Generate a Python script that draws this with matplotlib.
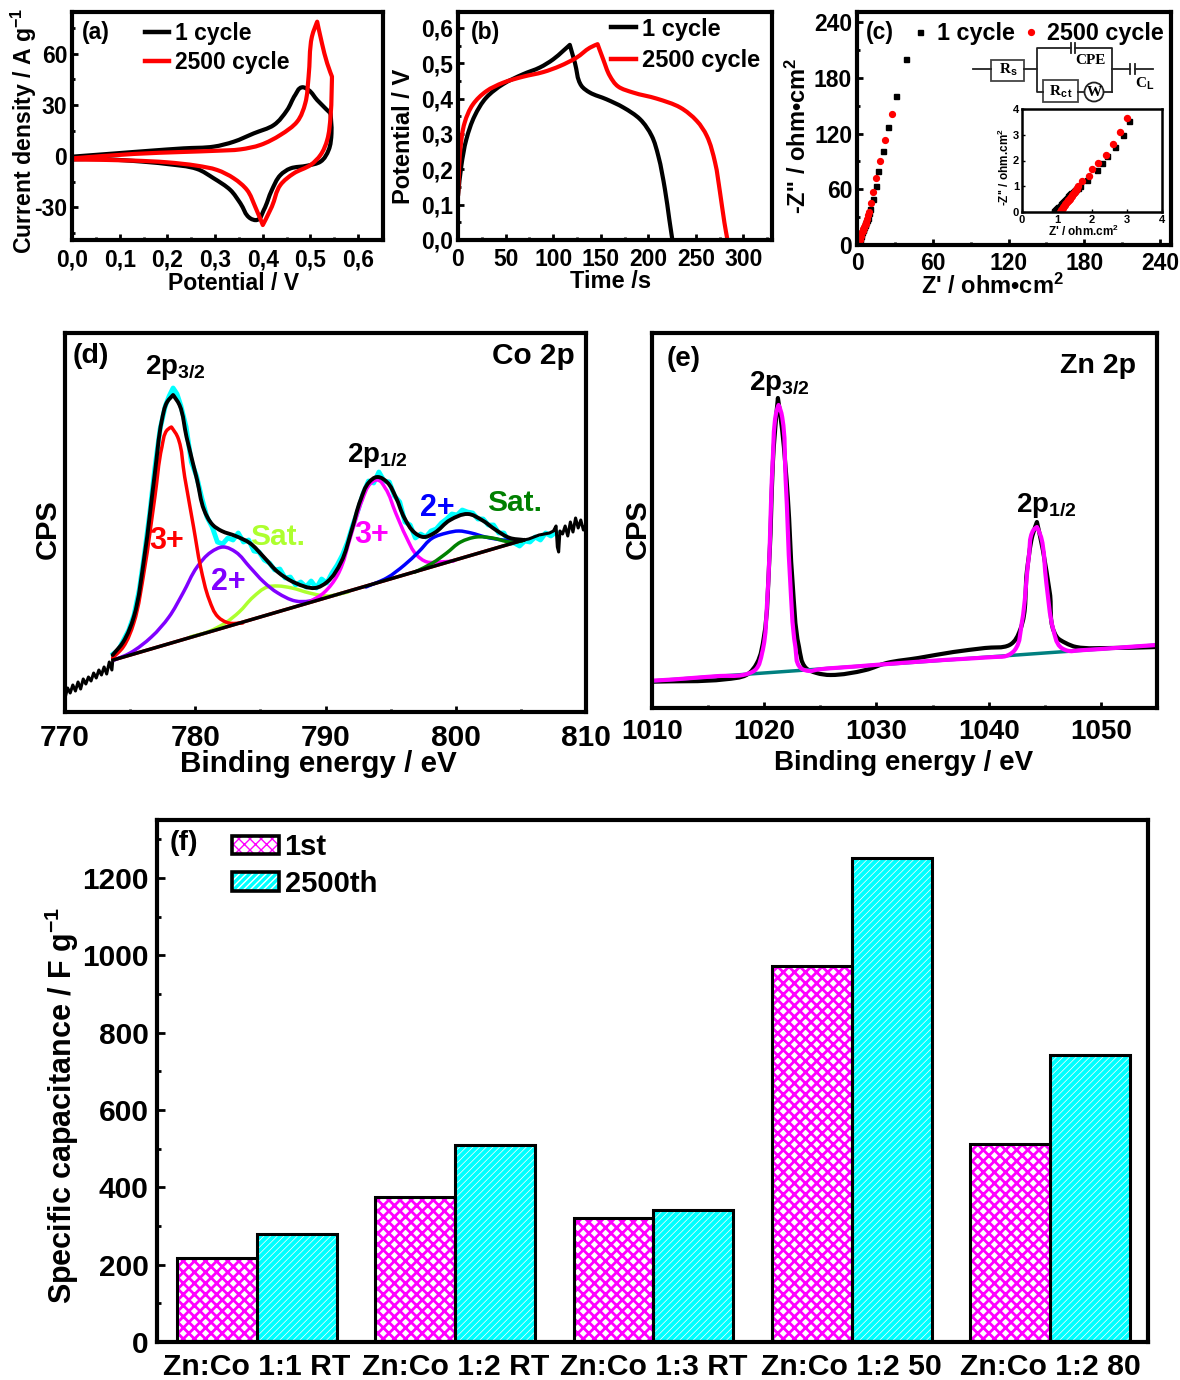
import matplotlib
matplotlib.use("Agg")
import matplotlib.pyplot as plt
import numpy as np
from matplotlib.legend_handler import HandlerTuple
from matplotlib.lines import Line2D
from matplotlib.patches import Circle, Patch, PathPatch, Rectangle
from matplotlib.path import Path
from matplotlib.ticker import MultipleLocator

plt.rcParams["font.family"] = ["Liberation Sans", "DejaVu Sans"]
plt.rcParams["font.weight"] = "bold"
plt.rcParams["axes.labelweight"] = "bold"
plt.rcParams["axes.unicode_minus"] = False
plt.rcParams["mathtext.fontset"] = "custom"
plt.rcParams["mathtext.bf"] = "Liberation Sans:bold"
plt.rcParams["mathtext.rm"] = "Liberation Sans:bold"
plt.rcParams["mathtext.default"] = "bf"

# (a) CV loops
cv1_x = [0, .094, .164, .234, .297, .339, .381, .423, .451, .468, .482, .496, .514, .542, .544, .538, .521, .493, .458, .437, .419, .402, .388, .374, .353, .332, .297, .262, .199, .129, .059, 0]
cv1_y = [-.4, 1.6, 3.1, 4.5, 5.5, 8.4, 13.3, 18.2, 27, 35.9, 40.4, 38.8, 32.9, 25.1, 13.3, 3.5, -3.3, -5.7, -7.3, -11.2, -20, -31.8, -37.6, -36.7, -27.8, -20, -13.1, -7.6, -4.7, -2.9, -1.8, -2]
cv2_x = [0, .129, .234, .304, .353, .395, .437, .472, .489, .496, .503, .514, .524, .535, .545, .542, .535, .521, .5, .465, .437, .419, .4, .384, .367, .339, .304, .262, .199, .129, 0]
cv2_y = [-1.4, 1.2, 2.4, 3.1, 3.9, 6.5, 12.4, 20.2, 31, 46.7, 70.2, 79, 66.3, 54.5, 46.7, 23.1, 9.4, .6, -5.3, -10.2, -17, -29.8, -40.6, -29.8, -20, -13.1, -8.2, -5.7, -3.7, -2.7, -2]

# (b) charge / discharge
gcd1_t = [0, 3.5, 8.8, 17.5, 29.8, 47.4, 68.4, 86, 100, 110.5, 117.5, 122.8, 129.8, 138.6, 156.1, 173.7, 191.2, 203.5, 210.5, 217.5, 222.1, 225.3]
gcd1_v = [.125, .21, .285, .351, .403, .441, .469, .488, .511, .535, .552, .502, .436, .417, .398, .375, .342, .295, .238, .143, .058, 0]
gcd2_t = [0, 2.5, 7, 15.8, 29.8, 47.4, 68.4, 89.5, 107, 124.6, 138.6, 146.7, 152.6, 159.6, 168.4, 184.2, 208.8, 233.4, 250.9, 261.4, 270.2, 275.4, 280, 283.2]
gcd2_v = [.125, .258, .332, .384, .421, .445, .462, .475, .492, .516, .544, .554, .511, .464, .434, .417, .4, .375, .337, .295, .219, .134, .049, 0]

# (c) Nyquist, main plot
eis1_x = [.9, 1.2, 1.6, 2, 2.5, 3, 3.4, 4, 4.5, 5, 5.5, 6, 6.5, 7.2, 8, 8.7, 9.6, 10.6, 12.7, 14.8, 16.6, 20.6, 24.5, 31, 39]
eis1_y = [0, 1, 3, 5, 7.5, 10, 12, 14, 16, 17.5, 19, 21, 23, 25, 27, 29, 34, 39, 50, 63, 80, 101, 127, 160, 200]
eis2_x = [1.1, 1.4, 1.8, 2.2, 2.6, 3, 3.5, 4, 4.4, 4.9, 5.3, 5.8, 6.3, 6.9, 7.4, 7.9, 8.8, 9.8, 11.3, 12.9, 14.8, 18.5, 22.2, 27.4]
eis2_y = [0, 1, 3, 5, 7.5, 10, 12.5, 14, 15.5, 17, 18, 19.5, 21, 23, 25, 27.6, 32, 36, 45, 57, 72, 90, 112.5, 141]
# (c) Nyquist, inset
ins1_x = [.9, .925, .95, .975, 1, 1.025, 1.05, 1.075, 1.1, 1.125, 1.15, 1.175, 1.2, 1.225, 1.25, 1.275, 1.3, 1.325, 1.35, 1.38, 1.41, 1.445, 1.48, 1.515, 1.55, 1.6, 1.65, 1.86, 2.14, 2.28, 2.43, 2.66, 2.89, 3.06]
ins1_y = [0, .035, .07, .105, .14, .175, .21, .245, .28, .315, .35, .385, .42, .455, .49, .535, .58, .62, .66, .7, .74, .78, .82, .86, .9, .95, 1, 1.25, 1.64, 1.92, 2.18, 2.52, 2.99, 3.55]
ins2_x = [1.08, 1.1, 1.12, 1.14, 1.16, 1.18, 1.2, 1.22, 1.24, 1.26, 1.28, 1.3, 1.32, 1.34, 1.36, 1.38, 1.4, 1.42, 1.44, 1.46, 1.48, 1.5, 1.52, 1.54, 1.56, 1.58, 1.6, 1.72, 1.9, 2.01, 2.16, 2.39, 2.6, 2.79, 3]
ins2_y = [0, .035, .07, .11, .15, .185, .22, .26, .3, .335, .37, .41, .45, .485, .52, .56, .6, .635, .67, .705, .74, .78, .82, .86, .9, .95, 1, 1.19, 1.41, 1.68, 1.92, 2.23, 2.65, 3.11, 3.64]

# (d) Co 2p
co_raw_e = [773.7, 774.1, 774.5, 774.9, 775.3, 775.7, 776.1, 776.5, 776.9, 777.3, 777.7, 778.0, 778.3, 778.6, 778.9, 779.3, 779.7, 780.1, 780.5, 780.9, 781.3, 781.7, 782.1, 782.5, 782.9, 783.3, 783.7, 784.1, 784.5, 784.9, 785.3, 785.7, 786.1, 786.5, 786.9, 787.3, 787.7, 788.1, 788.5, 788.9, 789.3, 789.7, 790.1, 790.5, 790.9, 791.3, 791.7, 792.1, 792.5, 792.9, 793.3, 793.7, 794.1, 794.5, 794.9, 795.3, 795.7, 796.1, 796.5, 796.9, 797.3, 797.7, 798.1, 798.5, 798.9, 799.3, 799.7, 800.1, 800.5, 800.9, 801.3, 801.7, 802.1, 802.5, 802.9, 803.3, 803.7, 804.1, 804.5, 804.9, 805.3, 805.7, 806.1, 806.5, 806.9, 807.3, 807.7]
co_raw_c = [58, 62, 72, 82, 97, 122, 158, 198, 244, 283, 306, 316, 324, 318, 306, 285, 250, 236, 214, 195, 185, 170, 168, 174, 172, 179, 170, 172, 161, 160, 152, 149, 142, 143, 134, 135, 127, 130, 125, 131, 124, 133, 129, 139, 147, 157, 170, 187, 202, 219, 231, 229, 240, 231, 230, 216, 210, 190, 187, 174, 178, 175, 181, 183, 189, 193, 198, 197, 202, 200, 199, 193, 193, 187, 187, 179, 179, 169, 169, 166, 171, 170, 175, 172, 179, 176, 180]
co_left_e = [770.0, 770.2, 770.4, 770.6, 770.8, 771.0, 771.2, 771.4, 771.6, 771.8, 772.0, 772.2, 772.4, 772.6, 772.8, 773.0, 773.2, 773.4, 773.6, 773.7]
co_left_c = [14, 24, 19, 27, 21, 30, 23, 33, 28, 35, 31, 39, 34, 42, 37, 45, 38, 50, 42, 56]
co_right_e = [805.2, 805.6, 806, 806.4, 806.8, 807.2, 807.5, 807.7, 807.8, 807.9, 808, 808.2, 808.4, 808.6, 808.8, 809, 809.2, 809.4, 809.6, 809.8, 810]
co_right_c = [172, 173, 175, 177, 178, 179, 181, 186, 165, 160, 181, 178, 186, 176, 190, 180, 194, 184, 192, 182, 188]
co_fit_e = [773.66, 774.47, 775.28, 776.09, 776.9, 777.44, 777.84, 778.3, 778.79, 779.33, 780.14, 780.68, 781.35, 782.03, 783.1, 784.18, 785.26, 786.34, 787.69, 789.18, 790.12, 791.2, 792.01, 792.69, 793.36, 793.98, 794.71, 795.39, 796.06, 796.87, 797.54, 798.35, 799.57, 800.92, 802, 803.08, 804.16, 805.24]
co_fit_c = [57, 70, 95, 155, 239, 292, 310, 317, 307, 275, 232, 202, 187, 181, 176, 169, 155, 140, 129, 124, 130, 150, 182, 212, 230, 235, 230, 215, 194, 179, 175, 179, 192, 198, 192, 182, 174, 172]
co_base_e = [773.7, 805.2]
co_base_c = [52, 172]
co3a_e = [773.66, 774.47, 775.28, 776.09, 776.9, 777.44, 777.84, 778.17, 778.65, 779.19, 779.87, 780.41, 781.08, 781.76, 782.57, 783.64]
co3a_c = [54, 65, 89, 142, 215, 265, 282, 285, 275, 235, 185, 145, 112, 95, 89, 89]
co2a_e = [773.79, 775, 776.63, 777.98, 779.06, 780.14, 781.22, 782.16, 783.1, 784.18, 785.26, 786.34, 787.69, 788.77, 789.58]
co2a_c = [52, 59, 75, 95, 119, 145, 160, 165, 160, 145, 130, 119, 111, 111, 115]
sata_e = [779.6, 780.95, 782.3, 783.37, 784.45, 785.53, 786.34, 787.42, 788.77, 790.12, 791.74]
sata_c = [75, 80, 89, 100, 115, 125, 126, 124, 119, 116, 120]
co3b_e = [788.77, 789.85, 790.93, 792.01, 792.82, 793.5, 793.98, 794.58, 795.39, 796.2, 797, 797.8, 798.76, 799.84]
co3b_c = [110, 119, 137, 179, 212, 229, 232, 224, 199, 175, 157, 150, 150, 151]
co2b_e = [793.1, 794.7, 796.06, 797.14, 798.22, 799.3, 800.24, 801.19, 802.27, 803.62, 804.97]
co2b_c = [125, 134, 147, 160, 174, 179, 181, 179, 175, 172, 171]
satb_e = [796.87, 798.22, 799.3, 800.38, 801.59, 802.81, 804.16, 805.1]
satb_c = [140, 149, 159, 170, 175, 174, 170, 171]

# (e) Zn 2p
zn_raw_e = [1009.96, 1016.53, 1018.41, 1019.34, 1019.97, 1020.44, 1020.85, 1021.22, 1021.6, 1022.1, 1022.53, 1023.1, 1023.72, 1024.66, 1025.91, 1029.04, 1030.91, 1033.73, 1036.86, 1039.67, 1041.86, 1042.8, 1043.42, 1043.89, 1044.3, 1044.83, 1045.45, 1046.08, 1046.86, 1047.8, 1050.93, 1055]
zn_raw_c = [26.3, 28.7, 33, 44.7, 71, 145, 261, 310, 278, 211, 125, 61, 40, 35, 33, 38, 45, 50, 56, 60, 63, 78, 138, 172, 186, 158, 115, 71, 65, 61, 60, 61]
zn_fit_e = [1009.96, 1012, 1016, 1018.09, 1019.19, 1019.81, 1020.28, 1020.75, 1021.06, 1021.28, 1021.53, 1021.91, 1022.31, 1022.78, 1023.25, 1024.04, 1024.8, 1028, 1032.17, 1036, 1040.5, 1041.55, 1042.33, 1042.95, 1043.58, 1043.99, 1044.3, 1044.67, 1045.14, 1045.77, 1046.39, 1047.17, 1048, 1050, 1053, 1055]
zn_fit_c = [27.3, 28.6, 32, 33, 38, 55, 111, 245, 295, 303, 295, 228, 128, 61, 40, 37, 38.5, 41.4, 45, 48, 51, 52, 58, 85, 151, 178, 181, 171, 125, 78, 61, 57, 57.6, 59, 61.5, 63]
zn_base_e = [1009.96, 1055]
zn_base_c = [27, 63]

# (f) capacitance bars
samples = ["Zn:Co 1:1 RT", "Zn:Co 1:2 RT", "Zn:Co 1:3 RT", "Zn:Co 1:2 50", "Zn:Co 1:2 80"]
cap_1st = [217, 375, 321, 972, 512]
cap_2500 = [279, 509, 341, 1252, 742]

W, H = 1180, 1380
fig = plt.figure(figsize=(W / 100, H / 100), dpi=100)


def panel(l, t, r, b, fs, lw=3, ticklen=4, pad=6):
    ax = fig.add_axes([l / W, 1 - b / H, (r - l) / W, (b - t) / H])
    for s in ax.spines.values():
        s.set_linewidth(lw)
    ax.tick_params(which="major", direction="in", length=ticklen, width=2, labelsize=fs, pad=pad)
    ax.tick_params(which="minor", direction="in", length=ticklen / 2, width=2)
    return ax


def comma(vals):
    return [f"{v:.1f}".replace(".", ",") for v in vals]


def curve(ax, xs, ys, color, lw, corners=()):
    # spline connection through the read points, like Origin's line+spline; limits must be set first
    x0, x1 = ax.get_xlim()
    y0, y1 = ax.get_ylim()
    sx, sy = (x1 - x0), (y1 - y0)
    p = np.column_stack([np.asarray(xs, float) / sx, np.asarray(ys, float) / sy])
    seg = np.diff(p, axis=0)
    seglen = np.hypot(seg[:, 0], seg[:, 1])
    u = seg / seglen[:, None]
    tan = np.zeros_like(p)
    tan[0], tan[-1] = u[0], u[-1]
    for i in range(1, len(p) - 1):
        if i not in corners and np.dot(u[i - 1], u[i]) > -0.3:
            t = u[i - 1] + u[i]
            tan[i] = t / np.hypot(*t)
    verts = [p[0]]
    for i in range(len(seg)):
        verts.append(p[i] + tan[i] * seglen[i] / 3)
        verts.append(p[i + 1] - tan[i + 1] * seglen[i] / 3)
        verts.append(p[i + 1])
    verts = np.array(verts) * [sx, sy]
    codes = [Path.MOVETO] + [Path.CURVE4] * (len(verts) - 1)
    ax.add_patch(PathPatch(Path(verts, codes), fill=False, edgecolor=color, linewidth=lw,
                           capstyle="round", joinstyle="round", zorder=2))


def cycle_legend(ax, anchor, fs, spacing):
    handles = [Line2D([], [], color="black", lw=3.2), Line2D([], [], color="red", lw=3.2)]
    ax.legend(handles, ["1 cycle", "2500 cycle"], loc="upper left", bbox_to_anchor=anchor, frameon=False,
              fontsize=fs, borderpad=0, borderaxespad=0, handlelength=1.05, handletextpad=0.25, labelspacing=spacing)


# overlay in pixel coordinates for panel letters, annotations and the circuit
ov = fig.add_axes([0, 0, 1, 1], zorder=10)
ov.set_xlim(0, W)
ov.set_ylim(H, 0)
ov.axis("off")


def note(x, y, s, fs=18, color="black", **kw):
    ov.text(x, y, s, fontsize=fs, color=color, ha="center", va="center", **kw)


# --- (a)
ax = panel(72, 12, 383, 240, 16.5)
ax.tick_params(axis="y", which="major", pad=3.5)
ax.set_xlim(0, 0.652)
ax.set_ylim(-49.4, 84.7)
curve(ax, cv1_x, cv1_y, "black", 3, corners=[13])
curve(ax, cv2_x, cv2_y, "red", 3, corners=[14])
ax.set_xticks([0, .1, .2, .3, .4, .5, .6])
ax.set_xticklabels(comma([0, .1, .2, .3, .4, .5, .6]))
ax.xaxis.set_minor_locator(MultipleLocator(.05))
ax.set_yticks([-30, 0, 30, 60])
ax.yaxis.set_minor_locator(MultipleLocator(15))
ax.set_xlabel("Potential / V", fontsize=16.6, va="center")
ax.xaxis.set_label_coords((234 - 72) / 311, -(283 - 240) / 228)
ax.set_ylabel("Current density / A g$^{-1}$", fontsize=16.6, va="center")
ax.yaxis.set_label_coords(-(72 - 24) / 311, (240 - 131) / 228)
cycle_legend(ax, (.235, .955), 16.5, .25)
note(96, 32, "(a)", 16.5)

# --- (b)
ax = panel(458, 12, 772, 240, 16.5)
ax.tick_params(axis="y", which="major", pad=3.5)
ax.set_xlim(0, 330)
ax.set_ylim(0, 0.645)
curve(ax, gcd1_t, gcd1_v, "black", 3, corners=[10])
curve(ax, gcd2_t, gcd2_v, "red", 3, corners=[11])
ax.set_xticks([0, 50, 100, 150, 200, 250, 300])
ax.xaxis.set_minor_locator(MultipleLocator(25))
ax.set_yticks([0, .1, .2, .3, .4, .5, .6])
ax.set_yticklabels(comma([0, .1, .2, .3, .4, .5, .6]))
ax.yaxis.set_minor_locator(MultipleLocator(.05))
ax.set_xlabel("Time /s", fontsize=17, va="center")
ax.xaxis.set_label_coords((611 - 458) / 314, -(282 - 240) / 228)
ax.set_ylabel("Potential / V", fontsize=17, va="center")
ax.yaxis.set_label_coords(-(458 - 404) / 314, (240 - 136) / 228)
cycle_legend(ax, (.487, .975), 17, .37)
note(485, 32, "(b)", 16.5)

# --- (c)
ax = panel(857, 12, 1171, 245, 16.5, pad=5)
ax.tick_params(axis="y", which="major", pad=3.5)
ax.plot(eis1_x, eis1_y, "s", color="black", ms=3.6, label="1 cycle")
ax.plot(eis2_x, eis2_y, "o", color="red", ms=4.2, label="2500 cycle")
ax.set_xlim(0, 248.7)
ax.set_ylim(0, 250.8)
ax.set_xticks([0, 60, 120, 180, 240])
ax.set_yticks([0, 60, 120, 180, 240])
ax.xaxis.set_minor_locator(MultipleLocator(30))
ax.yaxis.set_minor_locator(MultipleLocator(30))
ax.set_xlabel("Z' / ohm•cm$^{2}$", fontsize=17, va="center")
ax.xaxis.set_label_coords((992 - 857) / 314, -(286 - 245) / 233)
ax.set_ylabel("-Z'' / ohm•cm$^{2}$", fontsize=17, va="center")
ax.yaxis.set_label_coords(-(857 - 798) / 314, (245 - 136) / 233)
ax.legend(loc="upper left", bbox_to_anchor=(.165, .955), frameon=False, fontsize=16.8, ncol=2, borderpad=0,
          borderaxespad=0, handlelength=1, handletextpad=0.2, columnspacing=.2)
note(880, 32, "(c)", 16.5)

ins = panel(1022, 109, 1162, 212, 8, lw=1.8, ticklen=2.5, pad=2)
ins.tick_params(which="major", width=1)
ins.plot(ins1_x, ins1_y, "s", color="black", ms=3.6)
ins.plot(ins2_x, ins2_y, "o", color="red", ms=4.3)
ins.set_xlim(0, 4)
ins.set_ylim(0, 4)
ins.set_xticks([0, 1, 2, 3, 4])
ins.set_yticks([0, 1, 2, 3, 4])
ins.set_xlabel("Z' / ohm.cm$^{2}$", fontsize=8.5, va="center")
ins.xaxis.set_label_coords((1084 - 1022) / 140, -(231 - 212) / 103)
ins.set_ylabel("-Z'' / ohm.cm$^{2}$", fontsize=8.5, va="center")
ins.yaxis.set_label_coords(-(1022 - 1004) / 140, (212 - 167) / 103)

# equivalent circuit
wires = [([973, 991], [69, 69]), ([1024, 1037, 1037, 1071], [69, 69, 48, 48]), ([1075, 1112, 1112], [48, 48, 92]),
         ([1037, 1037, 1043], [69, 92, 92]), ([1078, 1084], [92, 92]), ([1104, 1112], [92, 92]),
         ([1112, 1130], [69, 69]), ([1135, 1153], [69, 69])]
for xs, ys in wires:
    ov.plot(xs, ys, color="#222222", lw=1.3)
for x in [1071, 1075, 1130, 1135]:
    y = 48 if x < 1100 else 69
    ov.plot([x, x], [y - 5, y + 5], color="#222222", lw=1.3)
ov.add_patch(Rectangle((991, 60), 33, 21, fc="white", ec="#444444", lw=1.3))
ov.add_patch(Rectangle((1043, 80), 35, 22, fc="white", ec="#444444", lw=1.3))
ov.add_patch(Circle((1094, 92), 9.5, fc="white", ec="#222222", lw=1.3))
serif = ["Liberation Serif", "DejaVu Serif"]
ov.text(1090, 60, "CPE", fontsize=11, ha="center", va="center", family=serif)
ov.text(1008, 70, "R$_{\\mathrm{s}}$", fontsize=11, ha="center", va="center", family=serif)
ov.text(1061, 92, "R$_{\\mathrm{c\\,t}}$", fontsize=11, ha="center", va="center", family=serif)
ov.text(1094, 92, "W", fontsize=11, ha="center", va="center", family=serif)
ov.text(1145, 84, "C$_{\\mathrm{L}}$", fontsize=11, ha="center", va="center", family=serif)

# --- (d)
ax = panel(65, 333, 586, 712, 21.5, pad=9)
ax.set_xlim(770, 810)
ax.set_ylim(0, 379)
ax.plot(co_raw_e, co_raw_c, color="#00FFFF", lw=3.5, zorder=1.5)
ax.plot(co_left_e, co_left_c, color="black", lw=2.2)
ax.plot(co_right_e, co_right_c, color="black", lw=2.2)
ax.plot(co_base_e, co_base_c, color="red", lw=2.5, zorder=1.6)
curve(ax, sata_e, sata_c, "#ADFF2F", 2.5)
curve(ax, co2a_e, co2a_c, "#8000FF", 2.5)
curve(ax, co3a_e, co3a_c, "red", 2.5)
curve(ax, co3b_e, co3b_c, "#FF00FF", 2.5)
curve(ax, co2b_e, co2b_c, "#0000FF", 2.5)
curve(ax, satb_e, satb_c, "#008000", 2.5)
ax.plot(co_base_e, co_base_c, color="black", lw=2.5, zorder=2)
curve(ax, co_fit_e, co_fit_c, "black", 2.8)
ax.set_xticks([770, 780, 790, 800, 810])
ax.xaxis.set_minor_locator(MultipleLocator(5))
ax.set_yticks([])
ax.set_xlabel("Binding energy / eV", fontsize=21.3, va="center")
ax.xaxis.set_label_coords((318 - 65) / 521, -(764 - 712) / 379)
ax.set_ylabel("CPS", fontsize=21, va="center")
ax.yaxis.set_label_coords(-(65 - 48) / 521, (712 - 529) / 379)
note(91, 356, "(d)", 20.5)
note(533, 356, "Co 2p", 21.4)
note(175, 367, "2p$_{3/2}$", 20)
note(377, 455, "2p$_{1/2}$", 20)
note(167, 541, "3+", 22, "red")
note(228, 582, "2+", 22, "#8000FF")
note(278, 537, "Sat.", 21.5, "#ADFF2F")
note(372, 535, "3+", 22, "#FF00FF")
note(437, 508, "2+", 22, "#0000FF")
note(515, 503, "Sat.", 21.5, "#008000")

# --- (e)
ax = panel(652, 333, 1157, 708, 20, pad=8)
ax.set_xlim(1010, 1055)
ax.set_ylim(0, 375)
curve(ax, zn_raw_e, zn_raw_c, "black", 3)
ax.plot(zn_base_e, zn_base_c, color="#008080", lw=2.5, zorder=2)
curve(ax, zn_fit_e, zn_fit_c, "#FF00FF", 3)
ax.set_xticks([1010, 1020, 1030, 1040, 1050])
ax.xaxis.set_minor_locator(MultipleLocator(5))
ax.set_yticks([])
ax.set_xlabel("Binding energy / eV", fontsize=20, va="center")
ax.xaxis.set_label_coords((904 - 652) / 505, -(763 - 708) / 375)
ax.set_ylabel("CPS", fontsize=21, va="center")
ax.yaxis.set_label_coords(-(652 - 638) / 505, (708 - 529) / 375)
note(684, 359, "(e)", 20)
note(1098, 366, "Zn 2p", 20.5)
note(779, 384, "2p$_{3/2}$", 20)
note(1046, 506, "2p$_{1/2}$", 20)

# --- (f)
ax = panel(157, 820, 1148, 1342, 21.5, ticklen=6)
pos = list(range(len(samples)))
bw = 0.403
left = [p - bw / 2 for p in pos]
right = [p + bw / 2 for p in pos]
b1 = ax.bar(left, cap_1st, bw, color="white", edgecolor="#FF00FF", hatch="xxx", linewidth=0)
b2 = ax.bar(right, cap_2500, bw, color="#00FFFF", edgecolor="white", hatch="/////", linewidth=0)
for r in b1:
    r.set_hatch_linewidth(2)
for r in b2:
    r.set_hatch_linewidth(0.5)
ax.bar(left, cap_1st, bw, fill=False, edgecolor="black", linewidth=2.2)
ax.bar(right, cap_2500, bw, fill=False, edgecolor="black", linewidth=2.2)
ax.set_xlim(-0.505, 4.495)
ax.set_ylim(0, 1350)
ax.set_xticks(pos)
ax.set_xticklabels(samples, fontsize=21.7)
ax.tick_params(axis="x", length=0, pad=8)
ax.set_yticks([0, 200, 400, 600, 800, 1000, 1200])
ax.yaxis.set_minor_locator(MultipleLocator(100))
ax.set_ylabel("Specific capacitance / F g$^{-1}$", fontsize=22, va="center")
ax.yaxis.set_label_coords(-(157 - 62) / 991, (1342 - 1105) / 522)

h1a = Patch(facecolor="white", edgecolor="#FF00FF", hatch="xxx", linewidth=0)
h1a.set_hatch_linewidth(2)
h2a = Patch(facecolor="#00FFFF", edgecolor="white", hatch="/////", linewidth=0)
h2a.set_hatch_linewidth(0.5)
h1b = Patch(fill=False, edgecolor="black", linewidth=2.6)
h2b = Patch(fill=False, edgecolor="black", linewidth=2.6)
ax.legend([(h1a, h1b), (h2a, h2b)], ["1st", "2500th"], handler_map={tuple: HandlerTuple(ndivide=1, pad=0)},
          loc="upper left", bbox_to_anchor=(.0757, .975), frameon=False, fontsize=21, borderpad=0, borderaxespad=0,
          handlelength=1.6, handleheight=.6, handletextpad=.2, labelspacing=.3)
note(184, 843, "(f)", 20.5)

fig.savefig("out.png", dpi=100)
